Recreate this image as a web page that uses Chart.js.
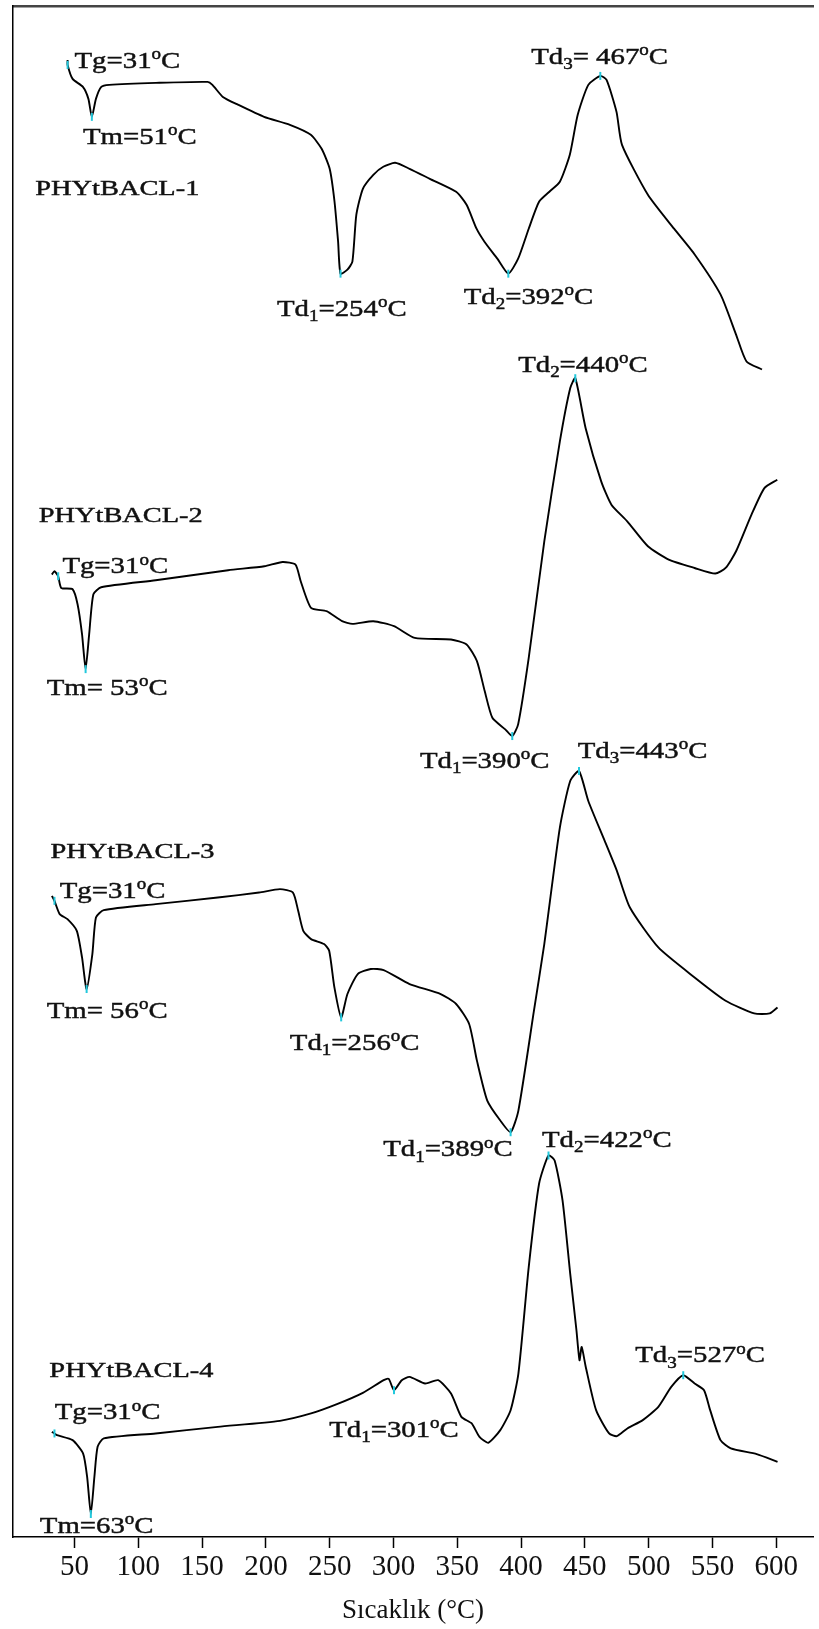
<!DOCTYPE html>
<html><head><meta charset="utf-8">
<script src="https://cdn.jsdelivr.net/npm/chart.js@4.4.1/dist/chart.umd.min.js"></script>
<style>html,body{margin:0;padding:0;background:#fff;} #wrap{width:819px;height:1629px;}</style>
</head><body><div id="wrap"><canvas id="c" width="819" height="1629"></canvas></div>
<script>
// x-axis tick labels (°C)
const tickValues = [50,100,150,200,250,300,350,400,450,500,550,600];
const axisTitle = "Sıcaklık (°C)";

// PHYtBACL-1 (temperature °C, heat flow, arbitrary offset units)
const c1T = [44.6,44.6,48.5,56.6,60.9,63.6,66.8,71.0,77.2,113.8,154.3,158.1,166.3,178.4,198.6,218.8,235.2,243.7,250.0,253.8,256.6,258.5,263.9,267.8,270.9,276.0,284.2,292.0,301.3,312.6,328.5,349.1,357.3,365.1,371.3,381.4,390.0,397.7,406.0,414.1,422.2,430.4,438.2,444.4,452.7,462.1,467.0,474.8,479.1,499.4,519.9,536.2,556.4,568.5,576.7,588.8];
const c1V = [1479,1474,1460,1452,1440,1422,1440,1452,1454,1456,1457,1454,1442,1434,1422,1414,1404,1390,1370,1337,1297,1265,1269,1277,1324,1350,1364,1372,1376,1370,1360,1347,1334,1310,1297,1280,1265,1280,1310,1337,1347,1357,1384,1424,1454,1463,1459,1427,1394,1344,1310,1284,1244,1204,1177,1169];
const c1Marks = [1,5,21,36,45];

// PHYtBACL-2
const c2T = [32.3,34.3,37.2,39.6,48.5,52.4,55.9,58.7,61.5,64.8,70.9,113.6,170.4,198.8,213.1,223.2,227.3,235.4,247.6,259.7,267.8,284.2,300.4,316.7,345.1,357.3,365.4,371.5,377.5,387.6,393.1,397.7,406.0,418.2,430.4,438.5,442.5,450.6,462.8,470.8,483.2,499.4,515.7,536.0,552.2,560.3,568.5,580.6,590.7,600.8];
const c2V = [963.7,967,962,950.3,949,934,904,869,904,944,951,958,968,972,976.3,973.7,957,930.3,927,917,914.3,917,912,900.3,898.7,893.7,877,847,820.3,808.7,802,813.7,880.3,997,1097,1150.3,1160.3,1110.3,1057,1033.7,1017,992,978.7,970.3,964.7,970.3,987,1023.7,1050.3,1058.7];
const c2Marks = [2,7,30,36];

// PHYtBACL-3
const c3T = [32.3,34.3,38.4,44.5,51.8,55.9,59.5,64.0,66.8,72.9,113.6,162.3,194.7,211.0,221.2,225.3,229.3,235.4,245.6,249.6,253.7,259.0,263.9,272.0,282.2,292.3,312.6,337.0,349.1,359.3,365.4,373.5,383.7,391.8,397.9,410.1,418.2,430.4,438.5,445.4,452.7,465.0,475.1,485.3,507.6,536.0,560.3,582.7,594.9,601.0];
const c3V = [642,637,623.7,618.7,607,580.3,548.7,583.7,620.3,627.7,633.7,640.3,645.3,648.7,645.3,627,607,598.7,593.7,587,550.3,520.3,543.7,563.7,568.7,567.7,553.7,543.7,533.7,513.7,477,437,417,405.3,427,527,593.7,710.3,757,767,737,698.7,667,630.3,590.3,560.3,537,524.3,524.3,530.3];
const c3Marks = [1,6,21,33,39];

// PHYtBACL-4
const c4T = [32.3,34.3,36.3,48.5,56.7,59.9,62.8,65.6,68.1,72.9,113.6,162.3,211.0,235.4,255.7,276.0,292.3,296.3,300.4,306.5,312.6,324.8,335.0,345.1,353.2,361.3,367.4,374.3,383.7,391.8,397.9,406.0,414.1,421.5,426.3,432.5,438.5,443.4,445.8,447.5,450.7,458.8,469.0,475.1,483.3,495.4,507.6,517.7,527.1,536.0,543.4,548.2,556.3,564.4,584.7,601.0];
const c4V = [105.3,103.7,102,97,83.7,60.3,23,60.3,90.3,98.7,103.7,110.3,116.3,123.7,133,144.3,157,158.3,147,157,160.3,153.7,157,143.7,120.3,113.7,100.3,94.3,107,127,163.7,270.3,353.7,382,377,337,263.7,207,177,190.3,170.3,127,103.7,101,108.7,117,130.3,150.3,162,153.7,147,127,97,88.7,83,75.3];
const c4Marks = [1,6,18,33,48];

// annotations: text (_x subscript, ^x superscript), anchor temperature, anchor level
const labelText = ["Tg=31^oC","Tm=51^oC","PHYtBACL-1","Td_1=254^oC","Td_2=392^oC","Td_3= 467^oC",
  "Td_2=440^oC","PHYtBACL-2","Tg=31^oC","Tm= 53^oC","Td_1=390^oC","Td_3=443^oC",
  "PHYtBACL-3","Tg=31^oC","Tm= 56^oC","Td_1=256^oC","Td_1=389^oC",
  "Td_2=422^oC","PHYtBACL-4","Tg=31^oC","Td_1=301^oC","Td_3=527^oC","Tm=63^oC"];
const labelT = [50.0,56.6,19.3,208.7,355.0,407.9, 397.7,22.0,40.5,28.2,320.7,444.4, 31.1,38.4,28.2,218.8,291.9, 416.4,30.3,34.5,249.6,489.5,22.8];
const labelV = [1471,1395,1344,1223,1235,1475, 1167,1016,965,843,770,780, 680,640,520,488,381, 391,160,118,100,175,4];

function pts(T, V){ return T.map((t,i)=>({x:t,y:V[i]})); }
function marks(T, V, idx){ return idx.map(i=>({x:T[i],y:V[i]})); }

const curves = [[c1T,c1V,c1Marks],[c2T,c2V,c2Marks],[c3T,c3V,c3Marks],[c4T,c4V,c4Marks]];
const markerPts = [].concat(...curves.map(c=>marks(c[0],c[1],c[2])));

const SERIF = '"Liberation Serif", "Times New Roman", serif';

function drawRich(ctx, str, x, y, size, sx){
  ctx.save();
  ctx.translate(x, y);
  ctx.scale(sx, 1);
  ctx.fillStyle = '#111';
  ctx.strokeStyle = '#111';
  ctx.lineWidth = 0.45;
  ctx.textBaseline = 'alphabetic';
  ctx.textAlign = 'left';
  let cx = 0;
  for (let i=0;i<str.length;i++){
    let ch = str[i], mode = 'n';
    if ((ch==='_'||ch==='^') && i+1<str.length){ mode = ch==='_'?'sub':'sup'; ch = str[++i]; }
    let fs = size, dy = 0;
    if (mode==='sub'){ fs = size*0.66; dy = size*0.22; }
    if (mode==='sup'){ fs = size*0.66; dy = -size*0.36; }
    ctx.font = fs + 'px ' + SERIF;
    ctx.fillText(ch, cx, dy);
    ctx.strokeText(ch, cx, dy);
    cx += ctx.measureText(ch).width;
  }
  ctx.restore();
}

const labelPlugin = {
  id: 'labels',
  afterDatasetsDraw(chart){
    const ctx = chart.ctx, xs = chart.scales.x, ys = chart.scales.y;
    labelText.forEach((t,i)=>{
      const px = xs.getPixelForValue(labelT[i]);
      const py = ys.getPixelForValue(labelV[i]);
      const isName = t.startsWith('PHY');
      drawRich(ctx, t, px, py, isName ? 22 : 24, isName ? 1.29 : 1.2);
    });
  }
};

const bgPlugin = {
  id: 'bg',
  beforeDraw(chart){ const c = chart.ctx; c.save(); c.fillStyle='#fff'; c.fillRect(0,0,chart.width,chart.height); c.restore(); }
};

const datasets = [{
  label: 'markers',
  data: markerPts,
  showLine: false,
  pointStyle: 'line',
  rotation: 90,
  pointRadius: 4,
  borderColor: '#22c8dc',
  backgroundColor: '#22c8dc',
  pointBorderWidth: 2,
  order: 0
}].concat(curves.map((c,k)=>({
  label: 'PHYtBACL-' + (k+1),
  data: pts(c[0], c[1]),
  showLine: true,
  borderColor: '#000',
  borderWidth: 1.9,
  pointRadius: 0,
  tension: 0.2,
  fill: false,
  order: 1
})));

new Chart(document.getElementById('c'), {
  type: 'scatter',
  data: { datasets },
  options: {
    responsive: false,
    devicePixelRatio: 1,
    animation: false,
    layout: { padding: { left: 13, top: 4, right: 0, bottom: 0 } },
    plugins: { legend: { display: false }, tooltip: { enabled: false } },
    scales: {
      x: {
        type: 'linear', position: 'bottom', min: 1.8, max: 628.8,
        afterBuildTicks: s => { s.ticks = tickValues.map(v=>({value:v})); },
        afterFit: s => { s.height = 92; },
        grid: { display: true, drawOnChartArea: false, drawTicks: true, tickLength: 11, color: '#000', tickWidth: 1.5 },
        border: { display: true, color: '#000', width: 1.5 },
        ticks: { color: '#111', font: { family: SERIF, size: 29 }, padding: 2, maxRotation: 0, autoSkip: false, callback: v => String(v) },
        title: { display: true, text: axisTitle, color: '#111', font: { family: SERIF, size: 27 }, padding: { top: 0, bottom: 2 } }
      },
      xt: {
        type: 'linear', position: 'top', min: 1.8, max: 628.8,
        afterFit: s => { s.height = 0; },
        grid: { display: false }, ticks: { display: false },
        border: { display: true, color: '#444', width: 2.5 }
      },
      y: {
        type: 'linear', position: 'left', min: 0, max: 1533,
        afterFit: s => { s.width = 0; },
        grid: { display: false }, ticks: { display: false },
        border: { display: true, color: '#000', width: 1.5 }
      }
    }
  },
  plugins: [bgPlugin, labelPlugin]
});
</script>
</body></html>
